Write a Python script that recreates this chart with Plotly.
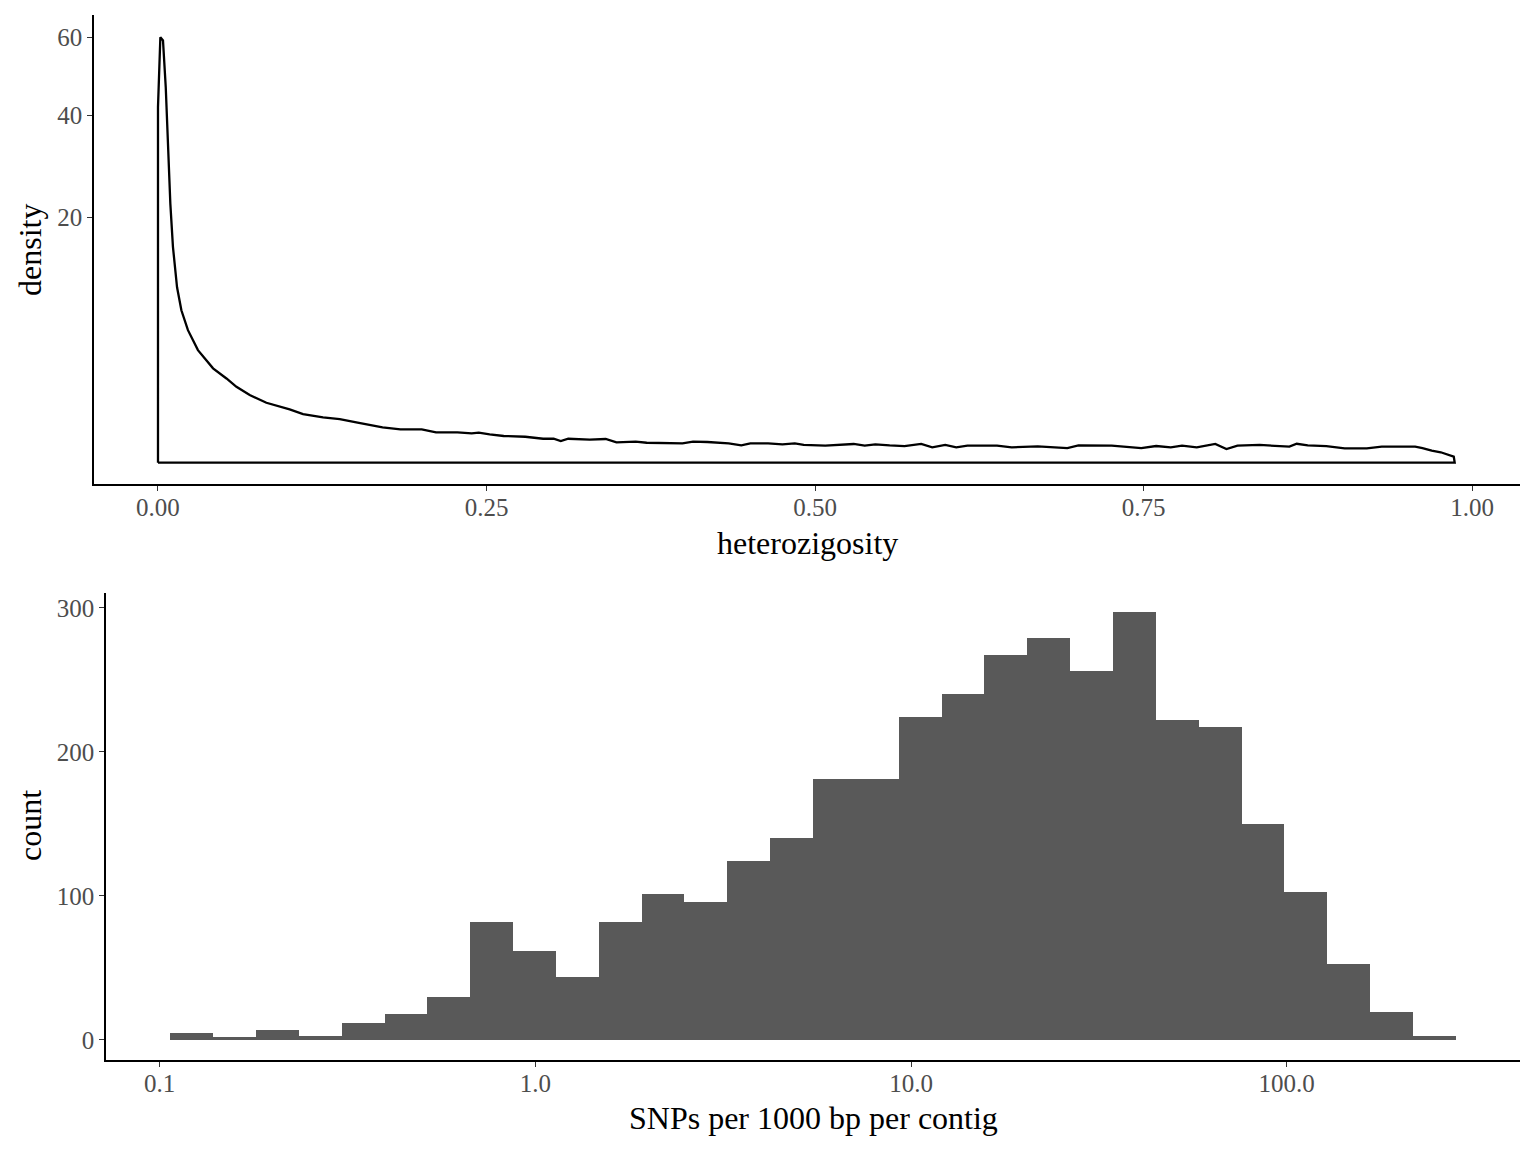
import numpy as np
import plotly.graph_objects as go

# ---------------- data ----------------
# Top panel: density of heterozygosity
het_x = [0.0000, 0.0018, 0.0038, 0.0059, 0.0076, 0.0094, 0.0114, 0.0145, 0.0178, 0.0228,
         0.0304, 0.0419, 0.0521, 0.0597, 0.0698, 0.0825, 0.1002, 0.1104, 0.1256, 0.1383,
         0.1519, 0.1709, 0.1845, 0.2007, 0.2116, 0.2279, 0.2387, 0.2441, 0.2524, 0.2631,
         0.2795, 0.2931, 0.3011, 0.3065, 0.3122, 0.3285, 0.3407, 0.3489, 0.3635, 0.3719,
         0.3991, 0.4072, 0.4181, 0.4343, 0.4439, 0.4508, 0.4643, 0.4752, 0.4846, 0.4914,
         0.5078, 0.5294, 0.5378, 0.5459, 0.5568, 0.5681, 0.5808, 0.5892, 0.5991, 0.6075,
         0.6160, 0.6385, 0.6497, 0.6695, 0.6920, 0.7005, 0.7258, 0.7483, 0.7596, 0.7707,
         0.7793, 0.7905, 0.8046, 0.8131, 0.8215, 0.8384, 0.8610, 0.8666, 0.8750, 0.8891,
         0.9031, 0.9199, 0.9313, 0.9567, 0.9623, 0.9693, 0.9762, 0.9861, 0.9868]
het_density = [41.9, 60.0, 59.1, 46.7, 31.6, 22.2, 15.4, 10.2, 7.7, 5.82,
               4.2, 2.95, 2.35, 1.91, 1.515, 1.19, 0.943, 0.784, 0.68, 0.63,
               0.529, 0.414, 0.369, 0.369, 0.305, 0.305, 0.286, 0.298, 0.267, 0.236,
               0.223, 0.19, 0.19, 0.156, 0.19, 0.175, 0.186, 0.137, 0.146, 0.132,
               0.124, 0.146, 0.142, 0.124, 0.100, 0.124, 0.124, 0.112, 0.124, 0.104,
               0.096, 0.116, 0.096, 0.112, 0.100, 0.092, 0.116, 0.078, 0.104, 0.078,
               0.096, 0.096, 0.078, 0.089, 0.071, 0.100, 0.096, 0.071, 0.092, 0.078,
               0.096, 0.078, 0.116, 0.062, 0.096, 0.104, 0.085, 0.119, 0.100, 0.092,
               0.068, 0.068, 0.085, 0.085, 0.071, 0.048, 0.036, 0.012, 0.0]
density_ticks = [20, 40, 60]

# Bottom panel: histogram of SNPs per 1000 bp per contig (30 log-spaced bins)
snp_bin_min = 0.1067   # left edge of first bin (SNPs/kb)
snp_bin_max = 281.8    # right edge of last bin (SNPs/kb)
snp_counts = [5, 2, 7, 3, 12, 18, 30, 82, 62, 44,
              82, 101, 96, 124, 140, 181, 181, 224, 240, 267,
              279, 256, 297, 222, 217, 150, 103, 53, 19, 3]
snp_tick_vals = [0.1, 1.0, 10.0, 100.0]
snp_tick_text = ["0.1", "1.0", "10.0", "100.0"]
count_ticks = [0, 100, 200, 300]

# ---------------- figure ----------------
W, H = 1536, 1152
FONT = "Liberation Serif"
TICK_COL = "#4D4D4D"

def px_x(p):
    return p / W

def px_y(p):
    return (H - p) / H

fig = go.Figure()

# density outline (closed polygon as ggplot geom_density), sqrt-transformed y
sx = [het_x[0]] + het_x + [het_x[-1], het_x[0]]
sy = [0.0] + het_density + [0.0, 0.0]
fig.add_trace(go.Scatter(
    x=sx, y=np.sqrt(np.array(sy)), mode="lines",
    line=dict(color="black", width=2.3), xaxis="x", yaxis="y",
    showlegend=False, hoverinfo="skip"))

# histogram bars in log10 space
edges = np.linspace(np.log10(snp_bin_min), np.log10(snp_bin_max), len(snp_counts) + 1)
centers = (edges[:-1] + edges[1:]) / 2
bw = edges[1] - edges[0]
fig.add_trace(go.Bar(
    x=centers, y=snp_counts, width=bw, marker=dict(color="#595959", line=dict(width=0)),
    xaxis="x2", yaxis="y2", showlegend=False, hoverinfo="skip"))

axis_common = dict(
    showline=True, linecolor="black", linewidth=1.6,
    ticks="outside", ticklen=5, tickwidth=1.2, tickcolor="#333333",
    tickfont=dict(family=FONT, size=25, color=TICK_COL),
    showgrid=False, zeroline=False, automargin=False,
)

yr_top = [-0.388, 8.15]
fig.update_layout(
    width=W, height=H,
    margin=dict(l=0, r=0, t=0, b=0),
    paper_bgcolor="white", plot_bgcolor="white",
    bargap=0,
    xaxis=dict(domain=[px_x(94), px_x(1520)], anchor="y",
               range=[-0.0487, 1.0365], tickvals=[0, 0.25, 0.5, 0.75, 1.0],
               ticktext=["0.00", "0.25", "0.50", "0.75", "1.00"],
               ticklabelstandoff=-5, **axis_common),
    yaxis=dict(domain=[px_y(484), px_y(15)], anchor="x",
               range=yr_top, tickvals=list(np.sqrt(density_ticks)),
               ticktext=[str(t) for t in density_ticks], **axis_common),
    xaxis2=dict(domain=[px_x(106), px_x(1520)], anchor="y2",
                range=[-1.143, 2.621], tickvals=list(np.log10(snp_tick_vals)),
                ticktext=snp_tick_text, ticklabelstandoff=-5, **axis_common),
    yaxis2=dict(domain=[px_y(1060), px_y(593)], anchor="x2",
                range=[-14.0, 310.4], tickvals=count_ticks,
                ticktext=[str(t) for t in count_ticks], **axis_common),
)

title_font = dict(family=FONT, size=32, color="black")
fig.add_annotation(text="heterozigosity", x=px_x(807), y=px_y(543), xref="paper", yref="paper",
                   showarrow=False, font=title_font, xanchor="center", yanchor="middle")
fig.add_annotation(text="SNPs per 1000 bp per contig", x=px_x(813), y=px_y(1118), xref="paper",
                   yref="paper", showarrow=False, font=title_font, xanchor="center", yanchor="middle")
fig.add_annotation(text="density", x=px_x(30), y=px_y(250), xref="paper", yref="paper",
                   showarrow=False, font=title_font, textangle=-90, xanchor="center", yanchor="middle")
fig.add_annotation(text="count", x=px_x(30), y=px_y(826), xref="paper", yref="paper",
                   showarrow=False, font=title_font, textangle=-90, xanchor="center", yanchor="middle")

fig.write_html("out.html")
